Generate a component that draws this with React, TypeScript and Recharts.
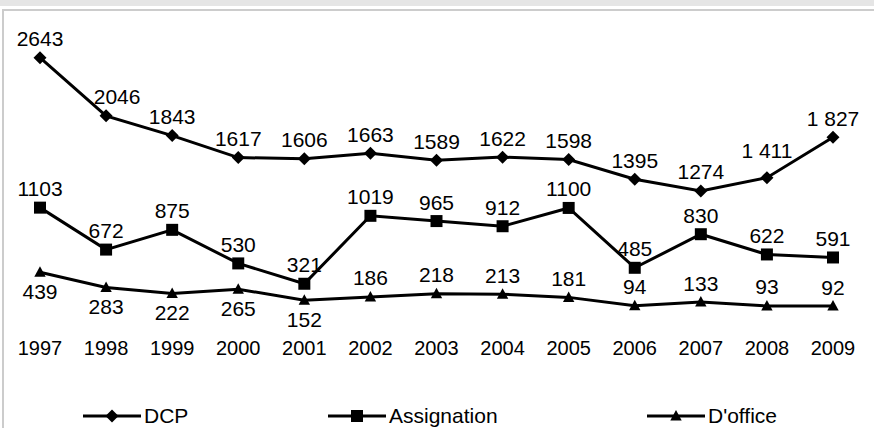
import React from 'react';
import { LineChart, Line, XAxis, YAxis, Legend, LabelList } from 'recharts';

const years = ['1997', '1998', '1999', '2000', '2001', '2002', '2003', '2004', '2005', '2006', '2007', '2008', '2009'];
const dcpValues = [2643, 2046, 1843, 1617, 1606, 1663, 1589, 1622, 1598, 1395, 1274, 1411, 1827];
const dcpLabels = ['2643', '2046', '1843', '1617', '1606', '1663', '1589', '1622', '1598', '1395', '1274', '1 411', '1 827'];
const assignationValues = [1103, 672, 875, 530, 321, 1019, 965, 912, 1100, 485, 830, 622, 591];
const dofficeValues = [439, 283, 222, 265, 152, 186, 218, 213, 181, 94, 133, 93, 92];
const seriesNames = ['DCP', 'Assignation', "D'office"];

const data = years.map((year, i) => ({
  year,
  dcp: dcpValues[i],
  dcpLabel: dcpLabels[i],
  assignation: assignationValues[i],
  doffice: dofficeValues[i],
}));

const FONT = '"Liberation Sans", Arial, Helvetica, sans-serif';
const W = 874;
const H = 428;

const diamondPath = (cx: number, cy: number, r: number) =>
  `M${cx},${cy - r}L${cx + r},${cy}L${cx},${cy + r}L${cx - r},${cy}Z`;
const squarePath = (cx: number, cy: number, r: number) =>
  `M${cx - r},${cy - r}L${cx + r},${cy - r}L${cx + r},${cy + r}L${cx - r},${cy + r}Z`;
const trianglePath = (cx: number, cy: number, r: number) =>
  `M${cx},${cy - r}L${cx + r * 0.95},${cy + r * 0.75}L${cx - r * 0.95},${cy + r * 0.75}Z`;

const DiamondDot = (props: any) => {
  const { cx, cy, index } = props;
  if (cx == null || cy == null) return <g key={`dd-${index}`} />;
  return <path key={`dd-${index}`} d={diamondPath(cx, cy, 6.5)} fill="#000" />;
};
const SquareDot = (props: any) => {
  const { cx, cy, index } = props;
  if (cx == null || cy == null) return <g key={`sd-${index}`} />;
  return <path key={`sd-${index}`} d={squarePath(cx, cy, 6)} fill="#000" />;
};
const TriangleDot = (props: any) => {
  const { cx, cy, index } = props;
  if (cx == null || cy == null) return <g key={`td-${index}`} />;
  return <path key={`td-${index}`} d={trianglePath(cx, cy, 6)} fill="#000" />;
};

const makeLabel = (isBelow: (i: number) => boolean, nudge: (i: number) => [number, number]) => (props: any) => {
  const { x, y, value, index } = props;
  const below = isBelow(index);
  const [dx, dy] = nudge(index);
  return (
    <text
      x={x + dx}
      y={(below ? y + 26.5 : y - 11.5) + dy}
      textAnchor="middle"
      fontSize={21}
      fontFamily={FONT}
      fill="#000"
    >
      {value}
    </text>
  );
};

const noNudge = (): [number, number] => [0, 0];
const dcpNudge = (i: number): [number, number] => (i === 1 ? [11, 0] : i === 11 ? [0, -8] : [0, 0]);

const dcpLabel = makeLabel(() => false, dcpNudge);
const aboveLabel = makeLabel(() => false, noNudge);
const dofficeLabel = makeLabel((i) => i <= 4, noNudge);

const legendItemLeft = [83, 328, 647];
const legendMarkers = [diamondPath, squarePath, trianglePath];
const legendMarkerSize = [6.5, 6, 6];

const renderLegend = () => (
  <div style={{ position: 'relative', width: W, height: 24, fontFamily: FONT }}>
    {seriesNames.map((name, i) => (
      <div
        key={name}
        style={{
          position: 'absolute',
          left: legendItemLeft[i],
          top: 0,
          height: 24,
          display: 'flex',
          alignItems: 'center',
          whiteSpace: 'nowrap',
        }}
      >
        <svg width={58} height={16} style={{ display: 'block' }}>
          <line x1={0} y1={8} x2={58} y2={8} stroke="#000" strokeWidth={3} />
          <path d={legendMarkers[i](29, 8, legendMarkerSize[i])} fill="#000" />
        </svg>
        <span style={{ fontSize: 21, color: '#000', marginLeft: 3, lineHeight: '24px' }}>{name}</span>
      </div>
    ))}
  </div>
);

export default function App() {
  return (
    <div style={{ position: 'absolute', left: 0, top: 0, width: W, height: H, background: '#fff', overflow: 'hidden' }}>
      <div style={{ position: 'absolute', left: 0, top: 0, width: W, height: 6, background: '#e5e5e5' }} />
      <div
        style={{
          position: 'absolute',
          left: 2,
          top: 9,
          width: W + 20,
          height: H + 20,
          borderTop: '2px solid #cccccc',
          borderLeft: '2px solid #cccccc',
          boxSizing: 'border-box',
        }}
      />
      <div style={{ position: 'absolute', left: 0, top: 0 }}>
        <LineChart width={W} height={H} data={data} margin={{ top: 23, right: 8, bottom: 0, left: 7 }}>
          <XAxis
            dataKey="year"
            axisLine={false}
            tickLine={false}
            tickSize={6}
            tickMargin={20}
            height={89}
            padding={{ left: 33, right: 33 }}
            interval={0}
            tick={{ fontSize: 20, fill: '#000', fontFamily: FONT }}
          />
          <YAxis hide domain={[0, 3000]} />
          <Legend
            verticalAlign="bottom"
            content={renderLegend}
            wrapperStyle={{ left: 0, bottom: 0, width: W, height: 24 }}
          />
          <Line
            type="linear"
            dataKey="dcp"
            name="DCP"
            stroke="#000"
            strokeWidth={3}
            dot={DiamondDot}
            activeDot={false}
            isAnimationActive={false}
          >
            <LabelList dataKey="dcpLabel" content={dcpLabel} />
          </Line>
          <Line
            type="linear"
            dataKey="assignation"
            name="Assignation"
            stroke="#000"
            strokeWidth={3}
            dot={SquareDot}
            activeDot={false}
            isAnimationActive={false}
          >
            <LabelList dataKey="assignation" content={aboveLabel} />
          </Line>
          <Line
            type="linear"
            dataKey="doffice"
            name="D'office"
            stroke="#000"
            strokeWidth={3}
            dot={TriangleDot}
            activeDot={false}
            isAnimationActive={false}
          >
            <LabelList dataKey="doffice" content={dofficeLabel} />
          </Line>
        </LineChart>
      </div>
    </div>
  );
}
